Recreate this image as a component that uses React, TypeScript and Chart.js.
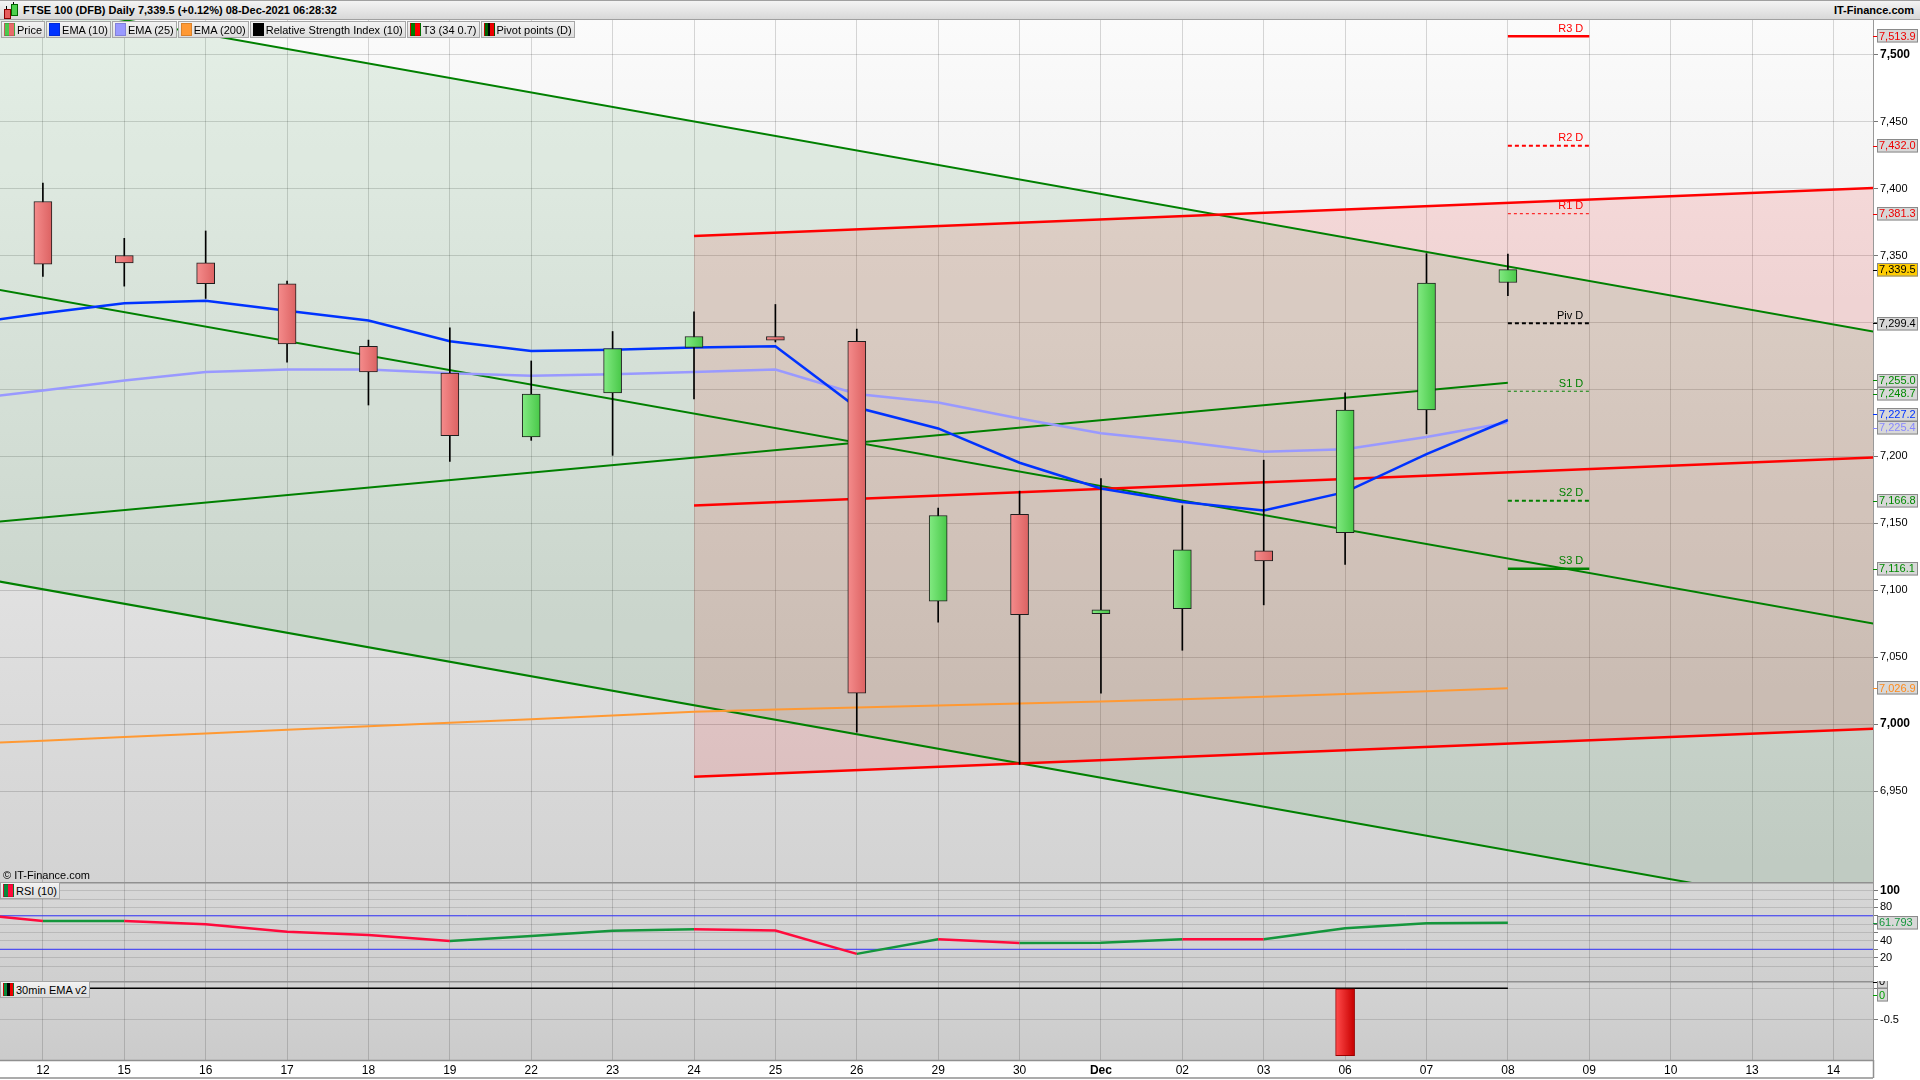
import React, { useEffect, useRef } from "react";
import { Chart, registerables } from "chart.js";
Chart.register(...registerables);

const FONT = "'Liberation Sans', Arial, Helvetica, sans-serif";
const NARROW = "'Liberation Sans Narrow', 'Liberation Sans', Arial, sans-serif";

// ---------- DATA ----------
const dates = ["12", "15", "16", "17", "18", "19", "22", "23", "24", "25", "26", "29", "30", "Dec", "02", "03", "06", "07", "08", "09", "10", "13", "14"];

const candleOpen = [7390.4, 7350.1, 7344.6, 7329.0, 7282.3, 7262.2, 7214.5, 7247.5, 7281.4, 7289.6, 7286.0, 7091.8, 7156.8, 7082.6, 7086.3, 7129.4, 7143.1, 7234.7, 7329.9];
const candleHigh = [7404.1, 7362.9, 7368.4, 7330.9, 7286.9, 7296.1, 7271.3, 7293.3, 7308.0, 7313.5, 7295.1, 7161.4, 7174.2, 7183.4, 7163.2, 7197.2, 7247.5, 7351.5, 7351.2];
const candleLow = [7334.5, 7327.2, 7318.0, 7270.4, 7238.4, 7196.2, 7212.0, 7200.8, 7243.0, 7285.5, 6994.0, 7076.2, 6970.0, 7023.1, 7055.2, 7089.1, 7119.3, 7216.9, 7320.0];
const candleClose = [7343.7, 7344.6, 7329.0, 7284.1, 7263.1, 7215.5, 7246.6, 7280.5, 7289.6, 7286.9, 7023.1, 7155.9, 7081.7, 7085.4, 7130.3, 7122.0, 7234.7, 7329.5, 7339.5];

// indicator series: first value belongs to the session before "12"
const ema10 = [7298.3, 7307.0, 7314.4, 7316.2, 7308.9, 7301.5, 7286.0, 7278.7, 7279.6, 7281.4, 7282.3, 7236.5, 7220.9, 7195.3, 7176.1, 7166.0, 7159.6, 7173.3, 7201.7, 7227.2];
const ema25 = [7242.0, 7249.3, 7256.7, 7263.1, 7264.9, 7264.9, 7262.2, 7260.3, 7261.3, 7263.1, 7264.9, 7246.6, 7240.2, 7228.3, 7217.3, 7210.9, 7203.5, 7205.4, 7214.5, 7225.4];
const ema200 = [6985.0, 6987.7, 6990.4, 6993.1, 6995.8, 6998.5, 7001.1, 7003.7, 7006.5, 7009.2, 7010.9, 7012.4, 7013.9, 7015.4, 7016.9, 7018.6, 7020.5, 7022.5, 7024.6, 7026.9];
const rsi = [73.5, 63.8, 63.9, 59.9, 51.0, 47.1, 39.9, 45.9, 52.2, 53.8, 52.3, 24.5, 42.1, 37.6, 37.7, 42.1, 41.9, 55.2, 61.0, 61.793];
const emaV2Line = [0, 0, 0, 0, 0, 0, 0, 0, 0, 0, 0, 0, 0, 0, 0, 0, 0, 0, 0, 0];
const emaV2Hist = [0, 0, 0, 0, 0, 0, 0, 0, 0, 0, 0, 0, 0, 0, 0, 0, -1.063, 0, 0];
const rsiBands = [70, 30];

// trend lines (T3): values at the two end sessions
const channelSpan = [-1, 23];
const greenUpper = [7547.7, 7287.8];
const greenMiddle = [7329.5, 7069.6];
const greenLower = [7111.6, 6851.7];
const t3Span = [-1, 18];
const t3Rising = [7148.7, 7255.0];
const redSpan = [8, 23];
const redUpper = [7364.7, 7401.8];
const redMiddle = [7163.3, 7200.4];
const redLower = [6960.8, 6997.9];

// pivot points (D)
const pivotLabels = ["R3 D", "R2 D", "R1 D", "Piv D", "S1 D", "S2 D", "S3 D"];
const pivotValues = [7513.9, 7432.0, 7381.3, 7299.4, 7248.7, 7166.8, 7116.1];
const pivotSpan = [18, 19];

// axis ticks
const priceTicks = [6950, 7000, 7050, 7100, 7150, 7200, 7250, 7300, 7350, 7400, 7450, 7500];
const rsiTicks = [10, 20, 30, 40, 50, 60, 70, 80, 90, 100];
const emaTicks = [-0.5, 0];

// ---------- STYLES ----------
const X_MIN = -0.527;
const X_MAX = 22.486;
const AXIS_W = 47;
const RED = "#ff0000";
const GREEN = "#008000";
const pivotStyles = [
  { color: RED, width: 2.5, dash: [] as number[] },
  { color: RED, width: 2, dash: [4, 3] },
  { color: RED, width: 1, dash: [3, 3] },
  { color: "#000000", width: 2, dash: [4, 3] },
  { color: GREEN, width: 1, dash: [3, 3] },
  { color: GREEN, width: 2, dash: [4, 3] },
  { color: GREEN, width: 2.5, dash: [] as number[] },
];

const seriesX = (n: number) => Array.from({ length: n }, (_, i) => i - 1);
const xy = (xs: number[], ys: number[]) => xs.map((x, i) => ({ x, y: ys[i] }));
const fmt1 = (v: number) => v.toLocaleString("en-US", { minimumFractionDigits: 1, maximumFractionDigits: 1 });

const xScale = (showLabels: boolean) => ({
  type: "linear",
  min: X_MIN,
  max: X_MAX,
  offset: false,
  grid: { color: "rgba(0,0,0,0.15)", drawTicks: false, offset: false },
  border: { display: false },
  ticks: {
    display: showLabels,
    autoSkip: false,
    maxRotation: 0,
    padding: 3,
    color: "#000",
    font: (c: any) => ({ family: NARROW, size: 12, weight: c.tick && dates[c.tick.value] === "Dec" ? "bold" : "normal" }),
    callback: (v: any) => dates[v] ?? "",
  },
  afterBuildTicks: (s: any) => {
    s.ticks = dates.map((_, i) => ({ value: i }));
  },
  afterFit: (s: any) => {
    s.height = showLabels ? 20 : 0;
    s.paddingLeft = 0;
    s.paddingRight = 0;
  },
});

const yScale = (min: number, max: number, ticks: number[], label: (v: number) => string, bold: (v: number) => boolean, gridColor: string) => ({
  position: "right",
  min,
  max,
  grid: { color: gridColor, tickLength: 5, tickColor: "#777" },
  border: { display: true, color: "#999" },
  ticks: {
    padding: 2,
    autoSkip: false,
    color: "#000",
    font: (c: any) => {
      const b = c.tick && bold(c.tick.value);
      return { family: FONT, size: b ? 12 : 11, weight: b ? "bold" : "normal" };
    },
    callback: (v: any) => label(Number(v)),
  },
  afterBuildTicks: (s: any) => {
    s.ticks = ticks.map((v) => ({ value: v }));
  },
  afterFit: (s: any) => {
    s.width = AXIS_W;
    s.paddingTop = 0;
    s.paddingBottom = 0;
  },
});

const bgPlugin = (top: string, bottom: string) => ({
  id: "panelBg",
  beforeDraw(chart: any) {
    const { ctx, chartArea: a } = chart;
    const g = ctx.createLinearGradient(0, a.top, 0, a.bottom);
    g.addColorStop(0, top);
    g.addColorStop(1, bottom);
    ctx.save();
    ctx.fillStyle = g;
    ctx.fillRect(a.left, a.top, a.right - a.left, a.bottom - a.top);
    ctx.restore();
  },
});

const framePlugin = (withStrip: boolean) => ({
  id: "panelFrame",
  afterDraw(chart: any) {
    const { ctx, chartArea: a, height } = chart;
    ctx.save();
    ctx.strokeStyle = "#909090";
    ctx.lineWidth = 1.5;
    ctx.beginPath();
    ctx.moveTo(0, a.top + 0.75);
    ctx.lineTo(a.right, a.top + 0.75);
    if (withStrip) {
      ctx.moveTo(0, a.bottom + 0.5);
      ctx.lineTo(a.right, a.bottom + 0.5);
      ctx.moveTo(0, height - 2);
      ctx.lineTo(a.right, height - 2);
      ctx.moveTo(a.right + 0.5, a.bottom);
      ctx.lineTo(a.right + 0.5, height - 2);
    }
    ctx.stroke();
    ctx.restore();
  },
});

type Box = { value: number; text: string; color: string; bg: string };
const valueBoxPlugin = (boxes: Box[], boxH: number, boxW: number) => ({
  id: "valueBoxes",
  afterDraw(chart: any) {
    const { ctx, chartArea, scales } = chart;
    const y = scales.y;
    const items = boxes.map((b) => ({ ...b, py: y.getPixelForValue(b.value) })).sort((a, b) => a.py - b.py);
    const groups: any[][] = [];
    items.forEach((it) => {
      const g = groups[groups.length - 1];
      if (g && it.py - g[g.length - 1].py < boxH) g.push(it);
      else groups.push([it]);
    });
    ctx.save();
    ctx.font = `11px ${FONT}`;
    ctx.textBaseline = "middle";
    ctx.textAlign = "left";
    groups.forEach((g) => {
      const mean = g.reduce((s, it) => s + it.py, 0) / g.length;
      g.forEach((it, k) => {
        const by = mean + (k - (g.length - 1) / 2) * boxH;
        const x0 = Math.round(chartArea.right) + 4;
        const top = Math.round(by - boxH / 2);
        ctx.fillStyle = it.bg;
        ctx.fillRect(x0, top, boxW, boxH);
        ctx.strokeStyle = "#8a8a8a";
        ctx.lineWidth = 1;
        ctx.strokeRect(x0 + 0.5, top + 0.5, boxW - 1, boxH - 1);
        ctx.strokeStyle = it.color;
        ctx.beginPath();
        ctx.moveTo(chartArea.right, Math.round(by) + 0.5);
        ctx.lineTo(x0, Math.round(by) + 0.5);
        ctx.stroke();
        ctx.fillStyle = it.color;
        ctx.fillText(it.text, x0 + 2, by + 0.5);
      });
    });
    ctx.restore();
  },
});

const pivotLabelPlugin = {
  id: "pivotLabels",
  afterDatasetsDraw(chart: any) {
    const { ctx, scales } = chart;
    ctx.save();
    ctx.font = `11px ${FONT}`;
    ctx.textAlign = "right";
    ctx.textBaseline = "bottom";
    pivotValues.forEach((v, i) => {
      ctx.fillStyle = pivotStyles[i].color;
      ctx.fillText(pivotLabels[i], scales.x.getPixelForValue(pivotSpan[1]) - 6, scales.y.getPixelForValue(v) - 2);
    });
    ctx.restore();
  },
};

const candleFill = (c: any) => {
  if (c.type !== "data") return "#888";
  const i = c.dataIndex;
  const up = candleClose[i] >= candleOpen[i];
  const xs = c.chart.scales && c.chart.scales.x;
  const px = xs ? xs.getPixelForValue(i) : NaN;
  if (!isFinite(px)) return up ? "#5cd65c" : "#ec7474";
  const g = c.chart.ctx.createLinearGradient(px - 9, 0, px + 9, 0);
  if (up) {
    g.addColorStop(0, "#82ea82");
    g.addColorStop(1, "#48c848");
  } else {
    g.addColorStop(0, "#f58c8c");
    g.addColorStop(1, "#dc6262");
  }
  return g;
};

const histFill = (c: any) => {
  if (c.type !== "data") return "#e00";
  const xs = c.chart.scales && c.chart.scales.x;
  const px = xs ? xs.getPixelForValue(c.raw.x) : NaN;
  if (!isFinite(px)) return "#e00";
  const g = c.chart.ctx.createLinearGradient(px - 9, 0, px + 9, 0);
  g.addColorStop(0, "#ff4a4a");
  g.addColorStop(1, "#c80000");
  return g;
};

const line = (data: any[], color: string, width: number, order: number, extra: any = {}) => ({
  type: "line",
  data,
  borderColor: color,
  borderWidth: width,
  pointRadius: 0,
  tension: 0,
  fill: false,
  order,
  ...extra,
});

function mainConfig(): any {
  const ds: any[] = [];
  const add = (d: any) => {
    ds.push(d);
    return ds.length - 1;
  };
  add({
    type: "bar",
    data: candleOpen.map((o, i) => ({ x: i, y: [o, candleClose[i]] })),
    grouped: false,
    barThickness: 18,
    backgroundColor: candleFill,
    borderColor: "#1e1e1e",
    borderWidth: 1,
    borderSkipped: false,
    order: 0,
  });
  add({
    type: "bar",
    data: candleLow.map((l, i) => ({ x: i, y: [l, candleHigh[i]] })),
    grouped: false,
    barThickness: 1,
    backgroundColor: "#000",
    borderWidth: 0,
    order: 1,
  });
  add(line(xy(seriesX(ema10.length), ema10), "#0033ff", 2.5, 2));
  add(line(xy(seriesX(ema25.length), ema25), "#9999ff", 2.5, 3));
  add(line(xy(seriesX(ema200.length), ema200), "#ff9933", 2, 4));
  pivotValues.forEach((v, i) => {
    const s = pivotStyles[i];
    add(line(xy(pivotSpan, [v, v]), s.color, s.width, 5, { borderDash: s.dash }));
  });
  add(line(xy(channelSpan, greenUpper), GREEN, 2, 7));
  add(line(xy(channelSpan, greenMiddle), GREEN, 2, 7));
  const gLow = add(line(xy(channelSpan, greenLower), GREEN, 2, 7));
  add(line(xy(t3Span, t3Rising), GREEN, 2, 7));
  add(line(xy(redSpan, redUpper), RED, 2.5, 6));
  add(line(xy(redSpan, redMiddle), RED, 2.5, 6));
  const rLow = add(line(xy(redSpan, redLower), RED, 2.5, 6));
  // channel fills (drawn first)
  add(line(xy(channelSpan, greenUpper), "rgba(0,0,0,0)", 0, 30, { fill: gLow, backgroundColor: "rgba(0,120,20,0.09)" }));
  add(line(xy(redSpan, redUpper), "rgba(0,0,0,0)", 0, 31, { fill: rLow, backgroundColor: "rgba(255,0,0,0.11)" }));

  const last = (a: number[]) => a[a.length - 1];
  const boxes: Box[] = [
    ...pivotValues.map((v, i) => ({ value: v, text: fmt1(v), color: i < 3 ? "#ee0000" : i === 3 ? "#000" : "#008a00", bg: "#d8d8d8" })),
    { value: last(candleClose), text: fmt1(last(candleClose)), color: "#000", bg: "#ffcc00" },
    { value: last(t3Rising), text: fmt1(last(t3Rising)), color: "#008a00", bg: "#d8d8d8" },
    { value: last(ema10), text: fmt1(last(ema10)), color: "#0033ff", bg: "#d8d8d8" },
    { value: last(ema25), text: fmt1(last(ema25)), color: "#8888ff", bg: "#d8d8d8" },
    { value: last(ema200), text: fmt1(last(ema200)), color: "#ff8a1a", bg: "#d8d8d8" },
  ];

  return {
    type: "line",
    data: { datasets: ds },
    options: {
      responsive: false,
      animation: false,
      events: [],
      layout: { padding: 0 },
      plugins: { legend: { display: false }, tooltip: { enabled: false } },
      scales: {
        x: xScale(false),
        y: yScale(6882.1, 7526.0, priceTicks, (v) => v.toLocaleString("en-US"), (v) => v % 500 === 0, "rgba(0,0,0,0.15)"),
      },
    },
    plugins: [bgPlugin("#fbfbfb", "#d3d3d3"), pivotLabelPlugin, valueBoxPlugin(boxes, 13.5, 41)],
  };
}

function rsiConfig(): any {
  const ds: any[] = [
    line(xy(seriesX(rsi.length), rsi), "#ff0a3c", 2.5, 0, {
      segment: { borderColor: (c: any) => (c.p1.parsed.y >= c.p0.parsed.y ? "#14963c" : "#ff0a3c") },
    }),
    ...rsiBands.map((b) => line(xy(channelSpan, [b, b]), "#3333ff", 1, 1)),
  ];
  const lastRsi = rsi[rsi.length - 1];
  return {
    type: "line",
    data: { datasets: ds },
    options: {
      responsive: false,
      animation: false,
      events: [],
      layout: { padding: 0 },
      plugins: { legend: { display: false }, tooltip: { enabled: false } },
      scales: {
        x: xScale(false),
        y: yScale(-7.9, 110.4, rsiTicks, (v) => (v % 20 === 0 ? String(v) : ""), (v) => v === 100, "rgba(0,0,0,0.12)"),
      },
    },
    plugins: [bgPlugin("#d7d7d7", "#cfcfcf"), framePlugin(false), valueBoxPlugin([{ value: lastRsi, text: lastRsi.toFixed(3), color: "#14963c", bg: "#d8d8d8" }], 13.5, 41)],
  };
}

function emaConfig(): any {
  const ds: any[] = [
    line(xy(seriesX(emaV2Line.length), emaV2Line), "#000", 1.5, 1),
    {
      type: "bar",
      data: emaV2Hist.map((v, i) => ({ x: i, y: v === 0 ? null : v })),
      grouped: false,
      barThickness: 19,
      backgroundColor: histFill,
      borderColor: "#9a0000",
      borderWidth: 1,
      borderSkipped: false,
      order: 0,
    },
  ];
  return {
    type: "line",
    data: { datasets: ds },
    options: {
      responsive: false,
      animation: false,
      events: [],
      layout: { padding: 0 },
      plugins: { legend: { display: false }, tooltip: { enabled: false } },
      scales: {
        x: xScale(true),
        y: yScale(-1.131, 0.115, emaTicks, (v) => (v === 0 ? "0" : String(v)), () => false, "rgba(0,0,0,0.12)"),
      },
    },
    plugins: [
      bgPlugin("#d3d3d3", "#cbcbcb"),
      framePlugin(true),
      valueBoxPlugin(
        [
          { value: 0, text: "0", color: "#000", bg: "#d8d8d8" },
          { value: 0, text: "0", color: "#00a000", bg: "#d8d8d8" },
        ],
        13.5,
        11
      ),
    ],
  };
}

const swatch = (bg: string) => (
  <span style={{ display: "inline-block", width: 9, height: 11, background: bg, marginRight: 2, border: "1px solid rgba(0,0,0,0.15)" }} />
);

const legendItems: { label: string; bg: string }[] = [
  { label: "Price", bg: "linear-gradient(90deg,#4cc84c 50%,#e86a6a 50%)" },
  { label: "EMA (10)", bg: "#0033ff" },
  { label: "EMA (25)", bg: "#9999ff" },
  { label: "EMA (200)", bg: "#ff9933" },
  { label: "Relative Strength Index (10)", bg: "#000" },
  { label: "T3 (34 0.7)", bg: "linear-gradient(90deg,#008000 50%,#ff0000 50%)" },
  { label: "Pivot points (D)", bg: "linear-gradient(90deg,#006400 35%,#000 35%,#000 55%,#ee0000 55%)" },
];

const boxStyle: React.CSSProperties = {
  display: "flex",
  alignItems: "center",
  height: 15,
  padding: "0 2px 0 2px",
  border: "1px solid #a6a6a6",
  background: "linear-gradient(#f3f3f3,#dcdcdc)",
  fontSize: 11,
  color: "#000",
  whiteSpace: "nowrap",
};

export default function App() {
  const mainRef = useRef<HTMLCanvasElement>(null);
  const rsiRef = useRef<HTMLCanvasElement>(null);
  const emaRef = useRef<HTMLCanvasElement>(null);

  useEffect(() => {
    Chart.defaults.font.family = FONT;
    const charts = [
      new Chart(mainRef.current as HTMLCanvasElement, mainConfig()),
      new Chart(rsiRef.current as HTMLCanvasElement, rsiConfig()),
      new Chart(emaRef.current as HTMLCanvasElement, emaConfig()),
    ];
    return () => charts.forEach((c) => c.destroy());
  }, []);

  return (
    <div style={{ position: "absolute", left: 0, top: 0, width: 1920, height: 1080, background: "#fff", overflow: "hidden", fontFamily: FONT }}>
      {/* title bar */}
      <div
        style={{
          position: "absolute",
          left: 0,
          top: 0,
          width: 1920,
          height: 20,
          boxSizing: "border-box",
          borderTop: "1px solid #a0a0a0",
          borderBottom: "1px solid #a0a0a0",
          background: "linear-gradient(#f4f4f4,#d8d8d8)",
        }}
      >
        <span style={{ position: "absolute", left: 4, top: 8, width: 5, height: 8, background: "#e65c5c", border: "1px solid #800" }} />
        <span style={{ position: "absolute", left: 6, top: 5, width: 1, height: 3, background: "#000" }} />
        <span style={{ position: "absolute", left: 11, top: 3, width: 5, height: 10, background: "#4cd04c", border: "1px solid #060" }} />
        <span style={{ position: "absolute", left: 13, top: 1, width: 1, height: 2, background: "#000" }} />
        <span style={{ position: "absolute", left: 23, top: 2, fontSize: 11, fontWeight: "bold", color: "#000", lineHeight: "15px" }}>
          FTSE 100 (DFB) Daily 7,339.5 (+0.12%) 08-Dec-2021 06:28:32
        </span>
        <span style={{ position: "absolute", right: 6, top: 2, fontSize: 11, fontWeight: "bold", color: "#000", lineHeight: "15px" }}>IT-Finance.com</span>
      </div>

      <canvas ref={mainRef} width={1920} height={862} style={{ position: "absolute", left: 0, top: 20, width: 1920, height: 862, display: "block" }} />
      <canvas ref={rsiRef} width={1920} height={99} style={{ position: "absolute", left: 0, top: 882, width: 1920, height: 99, display: "block" }} />
      <canvas ref={emaRef} width={1920} height={99} style={{ position: "absolute", left: 0, top: 981, width: 1920, height: 99, display: "block" }} />

      {/* legend row */}
      <div style={{ position: "absolute", left: 1, top: 21, display: "flex", gap: 1 }}>
        {legendItems.map((it) => (
          <div key={it.label} style={boxStyle}>
            {swatch(it.bg)}
            {it.label}
          </div>
        ))}
      </div>

      <div style={{ position: "absolute", left: 3, top: 869, fontSize: 11, color: "#000" }}>© IT-Finance.com</div>
      <div style={{ position: "absolute", left: 0, top: 882 }}>
        <div style={boxStyle}>
          {swatch("linear-gradient(90deg,#0a8a3a 50%,#ff0a3c 50%)")}
          RSI (10)
        </div>
      </div>
      <div style={{ position: "absolute", left: 0, top: 981 }}>
        <div style={boxStyle}>
          {swatch("linear-gradient(90deg,#0a8a3a 33%,#000 33%,#000 66%,#e00 66%)")}
          30min EMA v2
        </div>
      </div>
    </div>
  );
}
